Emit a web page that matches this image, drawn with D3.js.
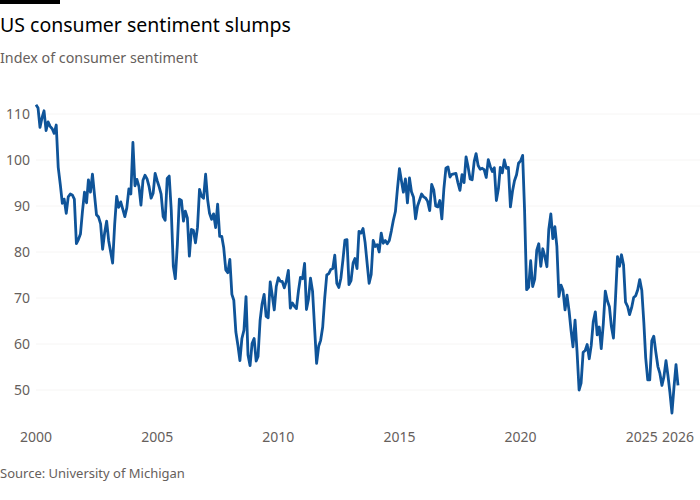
<!DOCTYPE html>
<html>
<head>
<meta charset="utf-8">
<script src="https://cdn.jsdelivr.net/npm/d3@7"></script>
<style>
body{margin:0;background:#fff}
svg{display:block;font-family:'Noto Sans',sans-serif}
</style>
</head>
<body>
<svg id="chart" width="700" height="500"></svg>
<script>
// monthly index values, Jan 2000 onwards
var values2000s = [
	112.0,111.3,107.1,109.2,110.7,106.4,108.3,107.3,106.8,105.8,107.6,98.4,
	94.7,90.6,91.5,88.4,92.0,92.6,92.4,91.5,81.8,82.7,83.9,88.8,
	93.0,90.7,95.7,93.0,96.9,92.4,88.1,87.6,86.1,80.6,84.2,86.7,
	82.4,79.9,77.6,86.0,92.1,89.7,90.9,89.3,87.7,89.6,93.7,92.6,
	103.8,94.4,95.8,94.2,90.2,95.6,96.7,95.9,94.2,91.7,92.8,97.1,
	95.5,94.1,92.6,87.7,86.9,96.0,96.5,89.1,76.9,74.2,81.6,91.5,
	91.2,86.7,88.9,87.4,79.1,84.9,84.7,82.0,85.4,93.6,92.1,91.7,
	96.9,91.3,88.4,87.1,88.3,85.3,90.4,83.4,83.4,80.9,76.1,75.5,
	78.4,70.8,69.5,62.6,59.8,56.4,61.2,63.0,70.3,57.6,55.3,60.1,
	61.2,56.3,57.3,65.1,68.7,70.8,66.0,65.7,73.5,70.6,67.4,72.5
]
var values2010s = [
	74.4,73.6,73.6,72.2,73.6,76.0,67.8,68.9,68.2,67.7,71.6,74.5,
	74.2,77.5,67.5,69.8,74.3,71.5,63.7,55.8,59.5,60.8,63.7,69.9,
	75.0,75.3,76.2,76.4,79.3,73.2,72.3,74.3,78.3,82.6,82.7,72.9,
	73.8,77.6,78.6,76.4,84.5,84.1,85.1,82.1,77.5,73.2,75.1,82.5,
	81.2,81.6,80.0,84.1,81.9,82.5,81.8,82.5,84.6,86.9,88.8,93.6,
	98.1,95.4,93.0,95.9,90.7,96.1,93.1,91.9,87.2,90.0,91.3,92.6,
	92.0,91.7,91.0,89.0,94.7,93.5,90.0,89.8,91.2,87.2,93.8,98.2,
	98.5,96.3,96.9,97.0,97.1,95.0,93.4,96.8,95.1,100.7,98.5,95.9,
	95.7,99.7,101.4,98.8,98.0,98.2,97.9,96.2,100.1,98.6,97.5,98.3,
	91.2,93.8,98.4,97.2,100.0,98.2,98.4,89.8,93.2,95.5,96.8,99.3
]
var values2020s = [
	99.8,101.0,89.1,71.8,72.3,78.1,72.5,74.1,80.4,81.8,76.9,80.7,
	79.0,76.8,84.9,88.3,82.9,85.5,81.2,70.3,72.8,71.7,67.4,70.6,
	67.2,62.8,59.4,65.2,58.4,50.0,51.5,58.2,58.6,59.9,56.8,59.7,
	64.9,67.0,62.0,63.7,59.0,64.4,71.5,69.4,68.1,63.8,61.3,69.7,
	79.0,76.9,79.4,77.2,69.1,68.2,66.4,67.9,70.1,70.5,71.8,74.0,
	71.7,64.7,57.0,52.2,52.2,60.7,61.7,58.2,55.1,53.6,51.0,52.9,
	56.4,53.0,49.5,45.0,50.5,55.5,51.0
]
var yTicks = [50,60,70,80,90,100,110]
var xTickYears = [2000,2005,2010,2015,2020,2025]
var endLabel = '2026'

var title = 'US consumer sentiment slumps'
var subtitle = 'Index of consumer sentiment'
var source = 'Source: University of Michigan'

var data = values2000s.concat(values2010s,values2020s).map(function(v,i){
	return {date:new Date(2000 + Math.floor(i/12), i%12, 1), value:v}
})

var svg = d3.select('#chart')

var x = d3.scaleTime()
	.domain([data[0].date, data[data.length-1].date])
	.range([36, 678])
var y = d3.scaleLinear().domain([50,110]).range([390,114])

// header
svg.append('rect').attr('x',0).attr('y',0).attr('width',60).attr('height',4).attr('fill','#000')
svg.append('text').text(title).attr('x',0).attr('y',32)
	.style('font-size','19.5px').style('fill','#000')
svg.append('text').text(subtitle).attr('x',0).attr('y',63)
	.style('font-size','14.3px').style('fill','#66605c')

// grid + y labels
var grid = svg.append('g').attr('id','grid')
yTicks.forEach(function(t){
	grid.append('line').attr('x1',36).attr('x2',700)
		.attr('y1',y(t)).attr('y2',y(t))
		.style('stroke','#f6f5f4').style('stroke-width',1)
	grid.append('text').text(t)
		.attr('x',30).attr('y',y(t)).attr('dy','0.35em')
		.attr('text-anchor','end')
		.style('font-size','14px').style('fill','#66605c')
})

// x labels
var xAxis = svg.append('g').attr('id','xaxis')
xTickYears.forEach(function(yr){
	xAxis.append('text').text(yr)
		.attr('x',x(new Date(yr,0,1))).attr('y',442)
		.attr('text-anchor','middle')
		.style('font-size','14px').style('fill','#66605c')
})
xAxis.append('text').text(endLabel)
	.attr('x',x(data[data.length-1].date)).attr('y',442)
	.attr('text-anchor','middle')
	.style('font-size','14px').style('fill','#66605c')

// the line
svg.append('path').datum(data)
	.attr('d',d3.line().x(function(d){return x(d.date)}).y(function(d){return y(d.value)}))
	.style('fill','none').style('stroke','#0f5499')
	.style('stroke-width',2.8).style('stroke-linejoin','round')

svg.append('text').text(source).attr('x',0).attr('y',478)
	.style('font-size','13px').style('fill','#66605c')
</script>
</body>
</html>
